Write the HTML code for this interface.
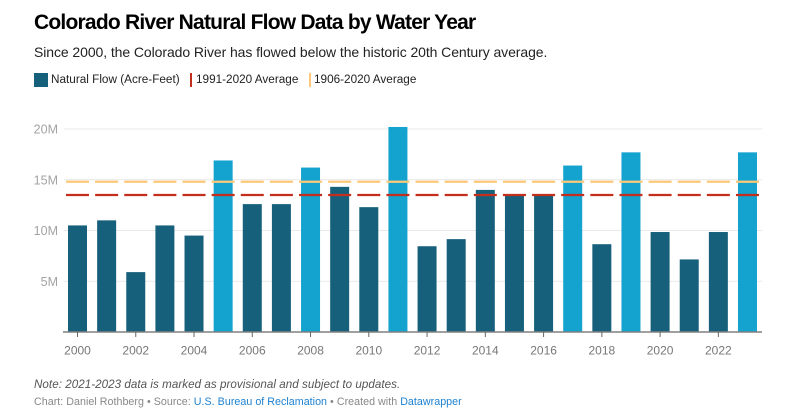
<!DOCTYPE html>
<html lang="en">
<head>
<meta charset="utf-8">
<title>Colorado River Natural Flow Data by Water Year</title>
<style>
html,body{margin:0;padding:0;background:#fff;}
body{width:787px;height:419px;position:relative;overflow:hidden;font-family:"Liberation Sans",sans-serif;}
.t{position:absolute;white-space:nowrap;line-height:1;}
#title{left:34px;top:11.5px;font-size:21px;font-weight:bold;color:#000;letter-spacing:-0.78px;}
#subtitle{left:34px;top:45px;font-size:14px;color:#222;letter-spacing:-0.08px;}
.leg{top:74px;font-size:11.75px;color:#222;}
.sw{position:absolute;}
#note{left:34px;top:379px;font-size:11.6px;font-style:italic;color:#555;letter-spacing:0.05px;}
#credit{left:34px;top:397px;font-size:10.7px;color:#888;letter-spacing:0.03px;}
#credit a{color:#1d81d0;text-decoration:none;}
svg{position:absolute;left:0;top:0;}
svg text{font-family:"Liberation Sans",sans-serif;font-size:12px;}
</style>
</head>
<body>
<div class="t" id="title">Colorado River Natural Flow Data by Water Year</div>
<div class="t" id="subtitle">Since 2000, the Colorado River has flowed below the historic 20th Century average.</div>

<div class="sw" style="left:34px;top:73px;width:14px;height:14px;background:#17607c"></div>
<div class="t leg" style="left:51px">Natural Flow (Acre-Feet)</div>
<div class="sw" style="left:190px;top:73px;width:2px;height:14px;background:#c42e1d"></div>
<div class="t leg" style="left:196px">1991-2020 Average</div>
<div class="sw" style="left:309px;top:73px;width:2px;height:14px;background:#fdc878"></div>
<div class="t leg" style="left:314px">1906-2020 Average</div>

<svg id="chart" width="787" height="419" viewBox="0 0 787 419"></svg>

<div class="t" id="note">Note: 2021-2023 data is marked as provisional and subject to updates.</div>
<div class="t" id="credit">Chart: Daniel Rothberg • Source: <a href="#">U.S. Bureau of Reclamation</a> • Created with <a href="#">Datawrapper</a></div>

<script>
var years = [2000,2001,2002,2003,2004,2005,2006,2007,2008,2009,2010,2011,2012,2013,2014,2015,2016,2017,2018,2019,2020,2021,2022,2023];
var flowMillions = [10.5,11.0,5.9,10.5,9.5,16.9,12.6,12.6,16.2,14.3,12.3,20.2,8.45,9.15,14.0,13.5,13.5,16.4,8.65,17.7,9.85,7.15,9.85,17.7];
var yTicks = [5,10,15,20];
var yTickLabels = ['5M','10M','15M','20M'];
var xTickYears = [2000,2002,2004,2006,2008,2010,2012,2014,2016,2018,2020,2022];
var average1991to2020 = 13.5;
var average1906to2020 = 14.8;
var aboveAverageThreshold = 14.8;

var svg = document.getElementById('chart');
var NS = 'http://www.w3.org/2000/svg';
function xScale(year){ return 77.5 + (year - 2000) * 29.13; }
function yScale(v){ return 332 - v * 10.15; }
function make(tag, attrs){
  var el = document.createElementNS(NS, tag);
  for (var k in attrs) el.setAttribute(k, attrs[k]);
  svg.appendChild(el);
  return el;
}

yTicks.forEach(function(v, i){
  var grid = make('line', {x1:64, x2:762, y1:yScale(v), y2:yScale(v), stroke:'#e9e9e9', 'stroke-width':1});
  
  
  var label = make('text', {x:58, y:yScale(v) + 4.5, 'text-anchor':'end', fill:'#a3a3a3'});
  label.style.fontSize = '12.5px';
  label.textContent = yTickLabels[i];
  
  
});

years.forEach(function(year, i){
  var v = flowMillions[i];
  var top = yScale(v);
  var bar = make('rect', {x:xScale(year) - 9.5, y:top, width:19, height:yScale(0) - top, fill: v > aboveAverageThreshold ? '#14a3cf' : '#17607c'});
  
  
});

var baseline = make('line', {x1:63, x2:762, y1:yScale(0), y2:yScale(0), stroke:'#808080', 'stroke-width':1.5});



xTickYears.forEach(function(year){
  var tick = make('line', {x1:xScale(year), x2:xScale(year), y1:yScale(0), y2:yScale(0) + 5, stroke:'#666', 'stroke-width':1});
  
  
  var label = make('text', {x:xScale(year), y:354.5, 'text-anchor':'middle', fill:'#777'});
  label.textContent = year;
  
  
});

function drawAverage(value, color, name){
  years.forEach(function(year){
    var seg = make('line', {x1:xScale(year) - 11.5, x2:xScale(year) + 11.5, y1:yScale(value), y2:yScale(value), stroke:color, 'stroke-width':2.2});
    
    
  });
}
drawAverage(average1906to2020, '#fdc878', 'average-1906-2020');
drawAverage(average1991to2020, '#c42e1d', 'average-1991-2020');
</script>
</body>
</html>
